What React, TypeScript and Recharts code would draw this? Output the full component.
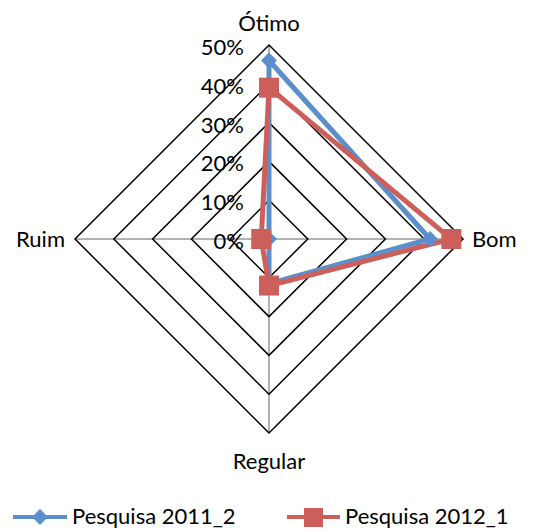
import React from "react";
import { RadarChart, Radar, PolarGrid, PolarAngleAxis, PolarRadiusAxis, Legend } from "recharts";

const categories = ["Ótimo", "Bom", "Regular", "Ruim"];
const serie2011 = [46, 41.5, 11.5, 0];
const serie2012 = [39, 47, 12, 2];
const radiusTicks = [0, 10, 20, 30, 40, 50];
const seriesNames = ["Pesquisa 2011_2", "Pesquisa 2012_1"];

const BLUE = "#5B8FCB";
const RED = "#CD5F5A";
const FONT = "Lato, 'Open Sans', sans-serif";
const FS = 22;

const data = categories.map((c, i) => ({ cat: c, a: serie2011[i], b: serie2012[i] }));

const Diamond = (props: any) => {
  const { cx, cy } = props;
  if (cx == null) return null;
  const s = 8;
  return <path d={`M${cx},${cy - s}L${cx + s},${cy}L${cx},${cy + s}L${cx - s},${cy}Z`} fill={BLUE} />;
};
const Square = (props: any) => {
  const { cx, cy } = props;
  if (cx == null) return null;
  const s = 10;
  return <rect x={cx - s} y={cy - s} width={2 * s} height={2 * s} fill={RED} />;
};

const AngleTick = (props: any) => {
  const { x, y, payload } = props;
  const v = payload.value;
  let tx = x, ty = y, anchor: any = "middle";
  if (v === "Ótimo") { ty = y - 6; }
  else if (v === "Bom") { tx = x + 1; ty = y + 8; anchor = "start"; }
  else if (v === "Regular") { ty = y + 28; }
  else if (v === "Ruim") { tx = x - 2; ty = y + 8; anchor = "end"; }
  return (
    <text x={tx} y={ty} textAnchor={anchor} fontSize={FS} fontFamily={FONT} fill="#000">{v}</text>
  );
};

const RadiusTick = (props: any) => {
  const { x, y, payload } = props;
  return (
    <text x={x - 25} y={y + 10} textAnchor="end" fontSize={FS} fontFamily={FONT} fill="#000">{payload.value}%</text>
  );
};

const LegendContent = () => (
  <div style={{ position: "relative", width: 533, height: 30 }}>
    <svg width={533} height={30} style={{ position: "absolute", left: 0, top: 0, overflow: "visible" }}>
      <line x1={13} y1={15} x2={67} y2={15} stroke={BLUE} strokeWidth={4} />
      <path d="M40,7L48,15L40,23L32,15Z" fill={BLUE} />
      <text x={72} y={22} fontSize={FS} fontFamily={FONT}>{seriesNames[0]}</text>
      <line x1={287} y1={15} x2={340} y2={15} stroke={RED} strokeWidth={4} />
      <rect x={304} y={6} width={19} height={19} fill={RED} />
      <text x={345} y={22} fontSize={FS} fontFamily={FONT}>{seriesNames[1]}</text>
    </svg>
  </div>
);

export default function App() {
  return (
    <div style={{ position: "absolute", left: 0, top: 0, background: "#fff" }}>
      <RadarChart width={533} height={532} data={data} cx={269} cy={239} outerRadius={194} margin={{ top: 0, right: 0, bottom: 0, left: 0 }}>
        <PolarGrid gridType="polygon" polarRadius={[0]} stroke="#999" strokeWidth={1.5} />
        <PolarGrid gridType="polygon" radialLines={false} stroke="#000" strokeWidth={1.5} />
        <PolarAngleAxis dataKey="cat" tick={<AngleTick />} tickLine={false} axisLine={false} />
        <PolarRadiusAxis angle={90} domain={[0, 50]} ticks={radiusTicks as any} tickCount={6} tick={<RadiusTick />} axisLine={false} tickLine={false} />
        <Radar name={seriesNames[0]} dataKey="a" stroke={BLUE} strokeWidth={5} fill="none" fillOpacity={0} dot={<Diamond />} isAnimationActive={false} />
        <Radar name={seriesNames[1]} dataKey="b" stroke={RED} strokeWidth={5} fill="none" fillOpacity={0} dot={<Square />} isAnimationActive={false} />
        <Legend content={<LegendContent />} wrapperStyle={{ position: "absolute", left: 0, top: 502, width: 533 }} />
      </RadarChart>
    </div>
  );
}
